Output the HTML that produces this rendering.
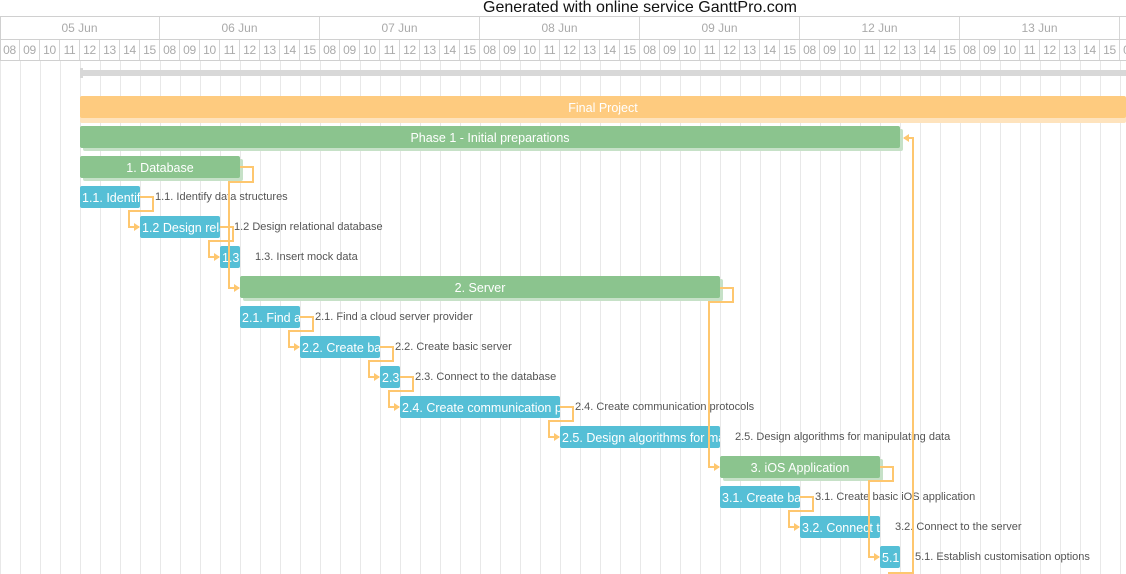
<!DOCTYPE html>
<html><head><meta charset="utf-8"><style>
body{margin:0;width:1126px;height:574px;overflow:hidden;background:#fff;font-family:"Liberation Sans",sans-serif;position:relative}
.a{position:absolute}
.title{left:0;width:1280px;text-align:center;top:-1px;font-size:16px;color:#111;line-height:18px}
.grid{left:0;top:60px;width:1126px;height:514px;background:repeating-linear-gradient(90deg,#e8e8e8 0 1px,transparent 1px 20px)}
.hr{left:0;width:1126px;height:1px;background:#d0d0d0}
.day{top:17px;height:22px;width:159px;border-right:1px solid #d6d6d6;text-align:center;font-size:12px;color:#aaa;line-height:22px}
.h{top:40px;height:20px;width:19px;border-right:1px solid #d6d6d6;font-size:12px;color:#aaa;line-height:20px;text-align:center;letter-spacing:-0.3px}
.bar{height:22px;border-radius:2px;color:#fff;font-size:12.5px;line-height:24px;white-space:nowrap;overflow:hidden}
.g{background:#8bc48e;box-shadow:3px 3px 0 #c6e1c7;text-align:center}
.o{background:#fecb7f;box-shadow:0 5px 0 #fee3bd;text-align:center}
.b{background:#55bfd6;padding-left:2px;box-sizing:border-box}
.l{font-size:11px;color:#555;white-space:nowrap;line-height:14px}
</style></head><body>
<div class="a title">Generated with online service GanttPro.com</div>
<div class="a grid"></div>
<div class="a hr" style="top:16px"></div>
<div class="a hr" style="top:39px"></div>
<div class="a hr" style="top:60px"></div>
<div class="a" style="left:0;top:16px;width:1px;height:45px;background:#d0d0d0"></div>
<div class="a day" style="left:0">05 Jun</div>
<div class="a day" style="left:160px">06 Jun</div>
<div class="a day" style="left:320px">07 Jun</div>
<div class="a day" style="left:480px">08 Jun</div>
<div class="a day" style="left:640px">09 Jun</div>
<div class="a day" style="left:800px">12 Jun</div>
<div class="a day" style="left:960px">13 Jun</div>
<div class="a day" style="left:1120px"></div>
<div class="a" style="left:0;top:40px">
<script>
var s='',hh=['08','09','10','11','12','13','14','15'];
for(var i=0;i<57;i++){s+='<div class="a h" style="left:'+(i*20)+'px;top:0">'+hh[i%8]+'</div>';}
document.write(s);
</script>
</div>
<div class="a" style="left:80px;top:70px;width:1046px;height:6px;background:#d8d8d8"></div>
<div class="a" style="left:80px;top:68px;width:3px;height:10px;background:#d8d8d8"></div>

<div class="a bar o" style="left:80px;top:96px;width:1046px">Final Project</div>
<div class="a bar g" style="left:80px;top:126px;width:820px">Phase 1 - Initial preparations</div>
<div class="a bar g" style="left:80px;top:156px;width:160px">1. Database</div>
<div class="a bar b" style="left:80px;top:186px;width:60px">1.1. Identify data structures</div>
<div class="a bar b" style="left:140px;top:216px;width:80px">1.2 Design relational database</div>
<div class="a bar b" style="left:220px;top:246px;width:20px">1.3</div>
<div class="a bar g" style="left:240px;top:276px;width:480px">2. Server</div>
<div class="a bar b" style="left:240px;top:306px;width:60px">2.1. Find a cloud</div>
<div class="a bar b" style="left:300px;top:336px;width:80px">2.2. Create basic</div>
<div class="a bar b" style="left:380px;top:366px;width:20px">2.3</div>
<div class="a bar b" style="left:400px;top:396px;width:160px">2.4. Create communication protocols</div>
<div class="a bar b" style="left:560px;top:426px;width:160px">2.5. Design algorithms for manipulating</div>
<div class="a bar g" style="left:720px;top:456px;width:160px">3. iOS Application</div>
<div class="a bar b" style="left:720px;top:486px;width:80px">3.1. Create basic</div>
<div class="a bar b" style="left:800px;top:516px;width:80px">3.2. Connect to</div>
<div class="a bar b" style="left:880px;top:546px;width:20px">5.1</div>

<div class="a l" style="left:155px;top:190px">1.1. Identify data structures</div>
<div class="a l" style="left:234px;top:220px">1.2 Design relational database</div>
<div class="a l" style="left:255px;top:250px">1.3. Insert mock data</div>
<div class="a l" style="left:315px;top:310px">2.1. Find a cloud server provider</div>
<div class="a l" style="left:395px;top:340px">2.2. Create basic server</div>
<div class="a l" style="left:415px;top:370px">2.3. Connect to the database</div>
<div class="a l" style="left:575px;top:400px">2.4. Create communication protocols</div>
<div class="a l" style="left:735px;top:430px">2.5. Design algorithms for manipulating data</div>
<div class="a l" style="left:815px;top:490px">3.1. Create basic iOS application</div>
<div class="a l" style="left:895px;top:520px">3.2. Connect to the server</div>
<div class="a l" style="left:915px;top:550px">5.1. Establish customisation options</div>

<svg class="a" style="left:0;top:0" width="1126" height="574">
<defs><marker id="m" markerWidth="6" markerHeight="8" refX="5" refY="4" orient="auto" markerUnits="userSpaceOnUse"><path d="M0,0L6,4L0,8z" fill="#fec76f"/></marker></defs>
<g fill="none" stroke="#fec76f" stroke-width="2" marker-end="url(#m)">
<path d="M140 197H153V211H129V227H139"/>
<path d="M220 227H233V241H209V257H219"/>
<path d="M240 167H253V182H229V288H239"/>
<path d="M300 317H313V331H289V347H299"/>
<path d="M380 347H393V361H369V377H379"/>
<path d="M400 377H413V391H389V407H399"/>
<path d="M560 407H573V421H549V437H559"/>
<path d="M720 288H733V302H709V467H719"/>
<path d="M800 497H813V511H789V527H799"/>
<path d="M880 467H893V481H869V557H879"/>
<path d="M888 573H913V138H904"/>
</g></svg>
</body></html>
